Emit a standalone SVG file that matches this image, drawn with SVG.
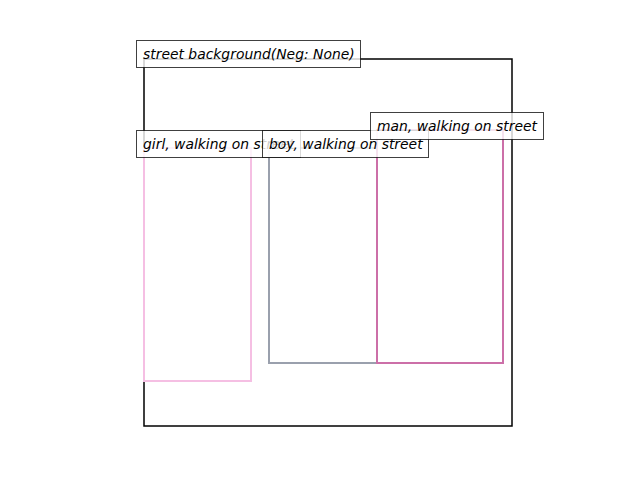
<svg xmlns="http://www.w3.org/2000/svg" width="640" height="480" viewBox="0 0 640 480">
<style>
.box{fill:none;stroke-width:2}
.lbl rect{fill:#fff;fill-opacity:0.8;stroke:#000;stroke-opacity:0.75;stroke-width:1}
.lbl text{font-family:"DejaVu Sans",sans-serif;font-style:oblique;font-size:13.9px;fill:#000}
</style>
<rect width="640" height="480" fill="#fff"/>
<g id="street"><rect x="144" y="59" width="368" height="367" fill="none" stroke="#000" stroke-width="1.5"/></g>
<g id="girl"><rect class="box" x="144" y="148" width="107" height="233" stroke="#f5bfe3"/></g>
<g id="boy"><rect class="box" x="269" y="148" width="108" height="215" stroke="#9aa0ad"/></g>
<g id="man"><rect class="box" x="377" y="130" width="126" height="233" stroke="#cc6fa8"/></g>
<g id="connectors"></g>
<g id="street-label" class="lbl"><rect x="136.5" y="40.5" width="224" height="27"/><text x="143" y="59">street background(Neg: None)</text></g>
<g id="girl-label" class="lbl"><rect x="136.5" y="130.5" width="164" height="27"/><text x="143" y="149">girl, walking on street</text></g>
<g id="boy-label" class="lbl"><rect x="262.5" y="130.5" width="166" height="27"/><text x="269" y="149">boy, walking on street</text></g>
<g id="man-label" class="lbl"><rect x="370.5" y="112.5" width="173" height="27"/><text x="377" y="131">man, walking on street</text></g>
</svg>
